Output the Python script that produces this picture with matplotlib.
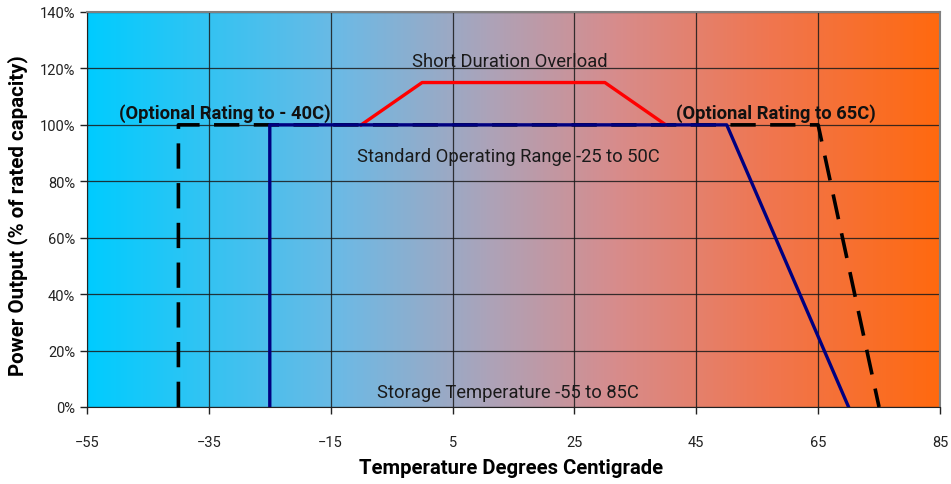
import numpy as np
import matplotlib.pyplot as plt
from matplotlib.colors import LinearSegmentedColormap
from matplotlib import font_manager

# fuente parecida a la del original (si existe la narrow)
names = set(f.name for f in font_manager.fontManager.ttflist)
fam = 'Liberation Sans Narrow' if 'Liberation Sans Narrow' in names else 'Roboto'
plt.rcParams['font.family'] = [fam, 'DejaVu Sans']

# datos
rating_x = [-40, -40, 65, 75]      # rating opcional -40 a 65C
rating_y = [0, 100, 100, 0]
standard_x = [-25, -25, 50, 70]    # rango estandar -25 a 50C
standard_y = [0, 100, 100, 0]
overload_x = [-10, 0, 30, 40]      # sobrecarga de corta duracion
overload_y = [100, 115, 115, 100]
xticks = [-55, -35, -15, 5, 25, 45, 65, 85]
yticks = [0, 20, 40, 60, 80, 100, 120, 140]

fig = plt.figure(figsize=(9.51, 4.85), dpi=100)
ax = fig.add_axes([0.0915, 0.1588, 0.8969, 0.8144])

# fondo degradado azul -> naranja
stops = [(0.0, (0/255, 204/255, 255/255)),
         (0.3, (110/255, 185/255, 228/255)),
         (0.47, (172/255, 163/255, 185/255)),
         (0.62, (215/255, 140/255, 140/255)),
         (0.8, (240/255, 118/255, 80/255)),
         (1.0, (255/255, 105/255, 15/255))]
cmap = LinearSegmentedColormap.from_list('fondo', stops)
grad = np.linspace(0, 1, 512).reshape(1, -1)
ax.imshow(grad, cmap=cmap, aspect='auto', extent=[-55, 85, 0, 140], zorder=0)

ax.set_xlim(-55, 85)
ax.set_ylim(0, 140)
ax.set_xticks(xticks)
ax.set_yticks(yticks)
ax.set_yticklabels([str(v) + '%' for v in yticks])
ax.grid(True, color='#1a1a1a', linewidth=0.9, alpha=0.85, zorder=1)
ax.tick_params(labelsize=10.5, colors='#222222', length=5, width=1)
ax.tick_params(axis='x', pad=15)

for s in ['top', 'right']:
    ax.spines[s].set_color('#808080')
    ax.spines[s].set_linewidth(1.5)
ax.spines['left'].set_color('#222222')
ax.spines['bottom'].set_color('#222222')

ax.plot(rating_x, rating_y, color='black', linewidth=2.6, dashes=(7, 4), zorder=3)
ax.plot(overload_x, overload_y, color='#ff0000', linewidth=2.4, zorder=4)
ax.plot(standard_x, standard_y, color='#000080', linewidth=2.4, zorder=5)

fs = 13.2
ax.text(14.4, 122.6, 'Short Duration Overload', ha='center', va='center', fontsize=fs, color='#1a1a1a', zorder=6)
ax.text(-32.4, 104.2, '(Optional Rating to - 40C)', ha='center', va='center', fontsize=fs, fontweight='bold', color='#111111', zorder=6)
ax.text(58.1, 104.2, '(Optional Rating to 65C)', ha='center', va='center', fontsize=fs, fontweight='bold', color='#111111', zorder=6)
ax.text(14.1, 89, 'Standard Operating Range -25 to 50C', ha='center', va='center', fontsize=fs, color='#1a1a1a', zorder=6)
ax.text(14.1, 5.3, 'Storage Temperature -55 to 85C', ha='center', va='center', fontsize=fs, color='#1a1a1a', zorder=6)

ax.set_xlabel('Temperature Degrees Centigrade', fontsize=14.6, fontweight='bold')
ax.set_ylabel('Power Output (% of rated capacity)', fontsize=14.8, fontweight='bold')
ax.xaxis.set_label_coords(0.497, -0.152)
ax.yaxis.set_label_coords(-0.081, 0.486)
ax.xaxis.label.set_va('center')
ax.yaxis.label.set_va('center')

fig.savefig('out.png', dpi=100)
